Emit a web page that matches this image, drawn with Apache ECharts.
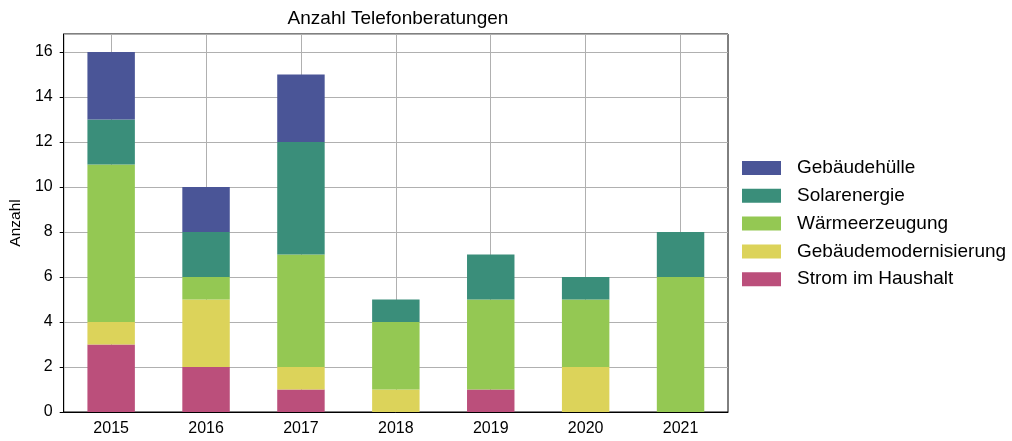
<!DOCTYPE html>
<html><head><meta charset="utf-8">
<script src="https://cdn.jsdelivr.net/npm/echarts@6/dist/echarts.min.js"></script>
<style>html,body{margin:0;padding:0;background:#fff}#c{width:1012px;height:441px}</style>
</head><body><div id="c"></div>
<script>
const years = ['2015','2016','2017','2018','2019','2020','2021'];
const strom = [3, 2, 1, 0, 1, 0, 0];
const modernisierung = [1, 3, 1, 1, 0, 2, 0];
const waerme = [7, 1, 5, 3, 4, 3, 6];
const solar = [2, 2, 5, 1, 2, 1, 2];
const huelle = [3, 2, 3, 0, 0, 0, 0];
const yTicks = [0, 2, 4, 6, 8, 10, 12, 14, 16];

const font = 'Liberation Sans, Arial, sans-serif';
const mk = (name, data, color) => ({
  name, type: 'bar', stack: 'a', data, barWidth: '50%',
  itemStyle: {color}, emphasis: {disabled: true}
});
const chart = echarts.init(document.getElementById('c'), null, {renderer: 'canvas'});
chart.setOption({
  animation: false,
  textStyle: {fontFamily: font},
  title: {text: 'Anzahl Telefonberatungen', left: 393, top: 4, textAlign: 'center',
    textStyle: {fontFamily: font, fontSize: 19, fontWeight: 'normal', color: '#000'}},
  grid: {left: 61, right: 284, top: 34, bottom: 29, show: true, borderColor: '#000', borderWidth: 1},
  legend: {
    orient: 'vertical', left: 737, top: 153.5, itemWidth: 39, itemHeight: 14, itemGap: 8.8,
    textStyle: {fontFamily: font, fontSize: 19, color: '#000', padding: [0, 0, 0, 11]},
    data: ['Gebäudehülle', 'Solarenergie', 'Wärmeerzeugung', 'Gebäudemodernisierung', 'Strom im Haushalt'],
    icon: 'rect'
  },
  xAxis: {
    type: 'category', data: years,
    axisLine: {lineStyle: {color: '#000'}},
    axisTick: {alignWithLabel: true, length: 4, lineStyle: {color: '#000'}},
    axisLabel: {color: '#000', fontSize: 16, margin: 9, fontFamily: font},
    splitLine: {show: true, alignWithLabel: true, lineStyle: {color: '#b0b0b0', width: 1}}
  },
  yAxis: {
    type: 'value', min: 0, max: 16.8, interval: 2,
    name: 'Anzahl', nameLocation: 'middle', nameGap: 34,
    nameTextStyle: {color: '#000', fontSize: 15.5, fontFamily: font},
    axisLine: {show: true, lineStyle: {color: '#000'}},
    axisTick: {show: true, length: 4, lineStyle: {color: '#000'}},
    axisLabel: {color: '#000', fontSize: 16, margin: 11, fontFamily: font, showMaxLabel: false,
      formatter: v => yTicks.includes(v) ? String(v) : ''},
    splitLine: {show: true, lineStyle: {color: '#b0b0b0', width: 1}}
  },
  series: [
    mk('Strom im Haushalt', strom, '#bb4f7b'),
    mk('Gebäudemodernisierung', modernisierung, '#dcd35a'),
    mk('Wärmeerzeugung', waerme, '#94c853'),
    mk('Solarenergie', solar, '#3a8e7a'),
    mk('Gebäudehülle', huelle, '#4a5597')
  ]
});
</script></body></html>
